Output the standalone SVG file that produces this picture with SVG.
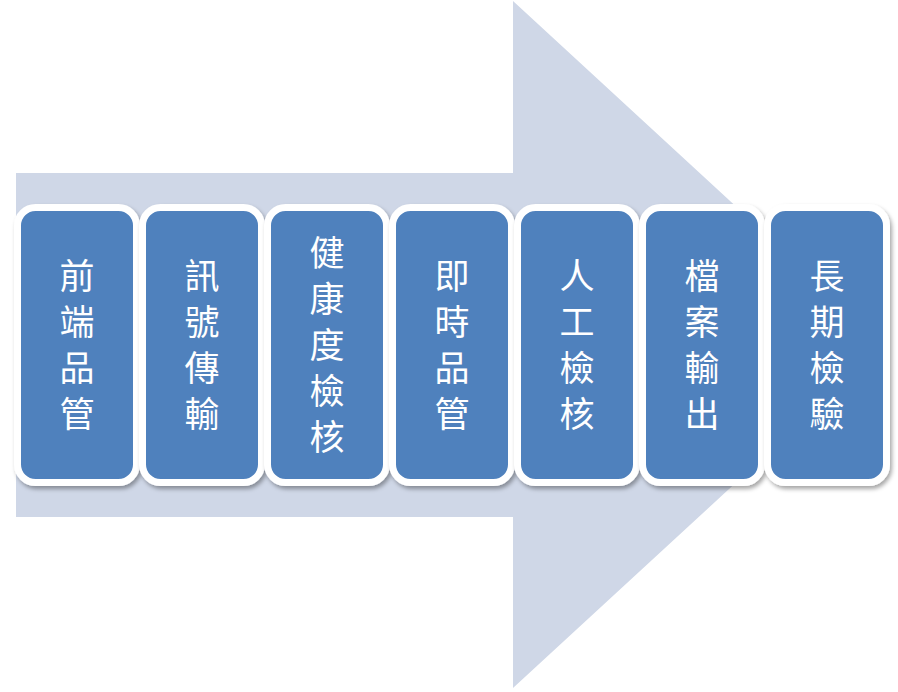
<svg xmlns="http://www.w3.org/2000/svg" width="898" height="692" viewBox="0 0 898 692">
  <defs>
    <filter id="sh" x="-20%" y="-10%" width="140%" height="125%">
      <feDropShadow dx="2" dy="3" stdDeviation="2.2" flood-color="#000" flood-opacity="0.35"/>
    </filter>
  </defs>
  <style>
    .box { fill: #4f81bd; stroke: #ffffff; stroke-width: 7; filter: url(#sh); }
    .lbl { fill: #ffffff; font-family: "Noto Sans CJK TC", "Noto Sans CJK SC", sans-serif; font-size: 35px; text-anchor: middle; writing-mode: vertical-rl; letter-spacing: 11px; }
  </style>
  <rect width="898" height="692" fill="#ffffff"/>
  <g id="arrow">
    <polygon points="16,173 513,173 513,1 886,344.5 513,688 513,517 16,517" fill="#cfd7e7"/>
  </g>
  <g id="connectors"></g>
  <g id="n1">
    <rect class="box" x="17.5" y="207.5" width="119" height="275" rx="18"/>
    <text class="lbl" x="77" y="350">前端品管</text>
  </g>
  <g id="n2">
    <rect class="box" x="142.5" y="207.5" width="119" height="275" rx="18"/>
    <text class="lbl" x="202" y="350">訊號傳輸</text>
  </g>
  <g id="n3">
    <rect class="box" x="267.5" y="207.5" width="119" height="275" rx="18"/>
    <text class="lbl" x="327" y="350">健康度檢核</text>
  </g>
  <g id="n4">
    <rect class="box" x="392.5" y="207.5" width="119" height="275" rx="18"/>
    <text class="lbl" x="452" y="350">即時品管</text>
  </g>
  <g id="n5">
    <rect class="box" x="517.5" y="207.5" width="119" height="275" rx="18"/>
    <text class="lbl" x="577" y="350">人工檢核</text>
  </g>
  <g id="n6">
    <rect class="box" x="642.5" y="207.5" width="119" height="275" rx="18"/>
    <text class="lbl" x="702" y="350">檔案輸出</text>
  </g>
  <g id="n7">
    <rect class="box" x="767.5" y="207.5" width="119" height="275" rx="18"/>
    <text class="lbl" x="827" y="350">長期檢驗</text>
  </g>
</svg>
